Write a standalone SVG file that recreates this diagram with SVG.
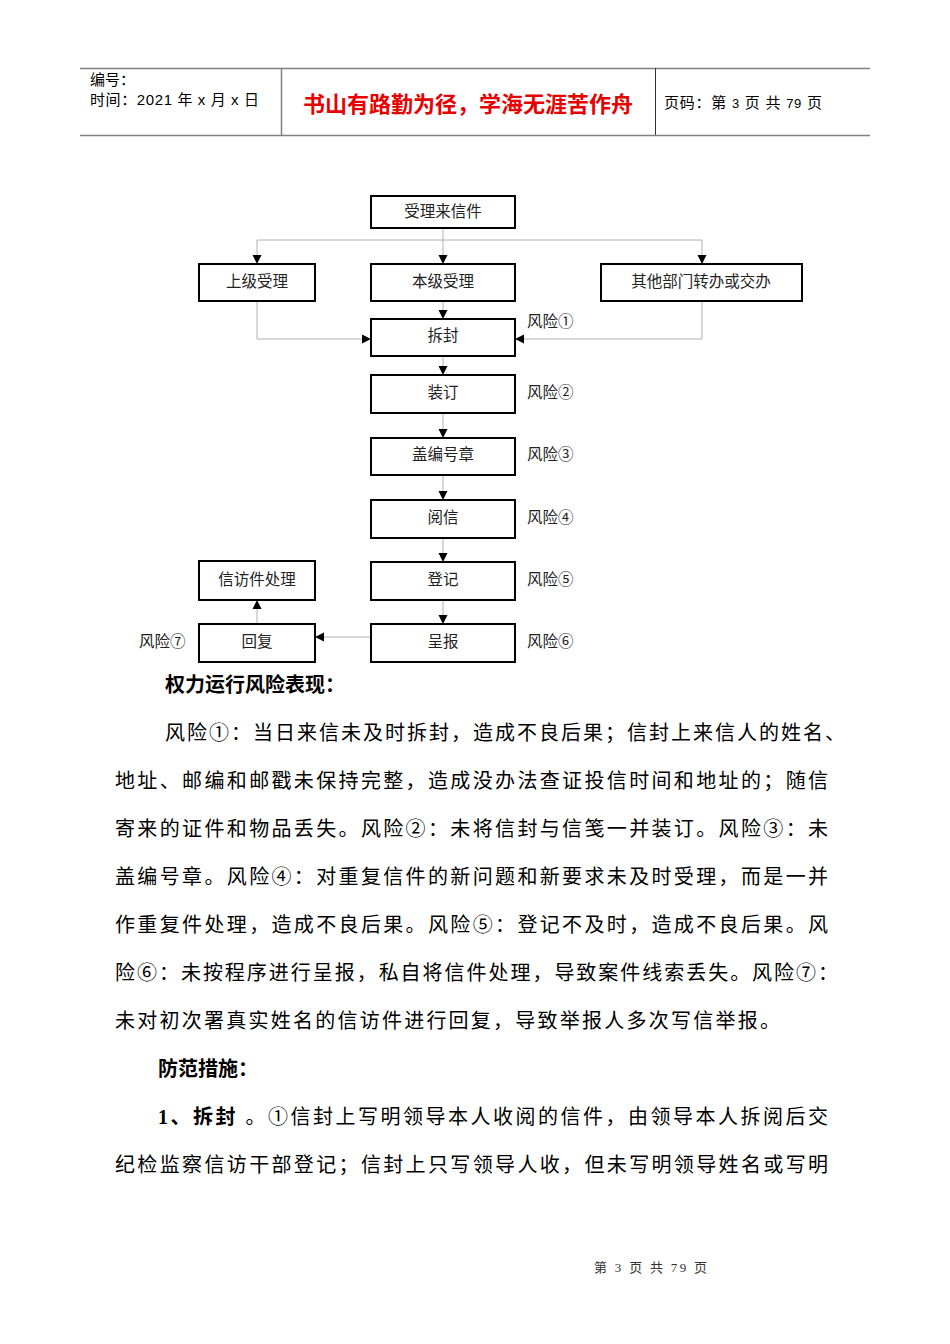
<svg xmlns="http://www.w3.org/2000/svg" width="950" height="1344" viewBox="0 0 950 1344">
<defs>
<marker id="arr" markerWidth="12" markerHeight="12" refX="10" refY="6" orient="auto" markerUnits="userSpaceOnUse">
<path d="M1,1.5 L10,6 L1,10.5 Z" fill="#000"/>
</marker>
<style>
.hdr{stroke:#808080;stroke-width:1.5;fill:none}
.box{fill:#fff;stroke:#000;stroke-width:2}
.lbl{font-family:"Liberation Serif","Noto Sans CJK SC",serif;font-size:15.5px;fill:#222;text-anchor:middle}
.risk{font-family:"Liberation Serif","Noto Sans CJK SC",serif;font-size:15.5px;fill:#222}
.con{stroke:#b0b0b0;stroke-width:1;fill:none;marker-end:url(#arr)}
.body{font-family:"Liberation Serif","Noto Sans CJK SC",serif;font-size:20px;fill:#000}
.bold{font-family:"Liberation Sans","Noto Sans CJK SC",sans-serif;font-size:20px;fill:#000;font-weight:bold}
.hs{font-family:"Liberation Sans","Noto Sans CJK SC",sans-serif;font-size:15px;fill:#000}
</style>
</defs>
<rect width="950" height="1344" fill="#fff"/>
<g id="header">
<line class="hdr" x1="80" y1="68.5" x2="870" y2="68.5"/>
<line class="hdr" x1="80" y1="135.5" x2="870" y2="135.5"/>
<line class="hdr" x1="281.5" y1="68" x2="281.5" y2="135"/>
<line x1="655.5" y1="68" x2="655.5" y2="135" stroke="#333" stroke-width="1"/>
<text class="hs" x="90" y="85">编号：</text>
<text class="hs" x="90" y="105" textLength="169" lengthAdjust="spacing">时间：2021 年 x 月 x 日</text>
<text x="468" y="112" text-anchor="middle" font-family="Liberation Sans,'Noto Sans CJK SC',sans-serif" font-size="22" font-weight="bold" fill="#e60000">书山有路勤为径，学海无涯苦作舟</text>
<text class="hs" x="664" y="108" textLength="158" lengthAdjust="spacing">页码：第 <tspan font-size="13">3</tspan> 页  共 <tspan font-size="13">79</tspan> 页</text>
</g>
<g id="connectors">
<polyline points="443,228 443,240" stroke="#b0b0b0" fill="none"/>
<line x1="257" y1="240" x2="702" y2="240" stroke="#b0b0b0"/>
<polyline class="con" points="257,240 257,264"/>
<polyline class="con" points="443,240 443,264"/>
<polyline class="con" points="702,240 702,264"/>
<polyline class="con" points="257,301 257,339 371,339"/>
<polyline class="con" points="443,301 443,319"/>
<polyline class="con" points="702,301 702,339 515,339"/>
<polyline class="con" points="443,356 443,375"/>
<polyline class="con" points="443,413 443,438"/>
<polyline class="con" points="443,475 443,500"/>
<polyline class="con" points="443,538 443,562"/>
<polyline class="con" points="443,600 443,624"/>
<polyline class="con" points="371,637 315,637"/>
<polyline class="con" points="257,624 257,600"/>
</g>
<g id="n-shouli"><rect class="box" x="371" y="196" width="144" height="32"/><text class="lbl" x="443" y="217">受理来信件</text></g>
<g id="n-shangji"><rect class="box" x="199" y="264" width="116" height="37"/><text class="lbl" x="257" y="287">上级受理</text></g>
<g id="n-benji"><rect class="box" x="371" y="264" width="144" height="37"/><text class="lbl" x="443" y="287">本级受理</text></g>
<g id="n-qita"><rect class="box" x="601" y="264" width="201" height="37"/><text class="lbl" x="701" y="287">其他部门转办或交办</text></g>
<g id="n-chaifeng"><rect class="box" x="371" y="319" width="144" height="37"/><text class="lbl" x="443" y="341">拆封</text><text class="risk" x="527" y="327">风险①</text></g>
<g id="n-zhuangding"><rect class="box" x="371" y="375" width="144" height="38"/><text class="lbl" x="443" y="398">装订</text><text class="risk" x="527" y="398">风险②</text></g>
<g id="n-gaizhang"><rect class="box" x="371" y="438" width="144" height="37"/><text class="lbl" x="443" y="460">盖编号章</text><text class="risk" x="527" y="460">风险③</text></g>
<g id="n-yuexin"><rect class="box" x="371" y="500" width="144" height="38"/><text class="lbl" x="443" y="523">阅信</text><text class="risk" x="527" y="523">风险④</text></g>
<g id="n-dengji"><rect class="box" x="371" y="562" width="144" height="38"/><text class="lbl" x="443" y="585">登记</text><text class="risk" x="527" y="585">风险⑤</text></g>
<g id="n-chengbao"><rect class="box" x="371" y="624" width="144" height="38"/><text class="lbl" x="443" y="647">呈报</text><text class="risk" x="527" y="647">风险⑥</text></g>
<g id="n-xinfang"><rect class="box" x="199" y="561" width="116" height="39"/><text class="lbl" x="257" y="585">信访件处理</text></g>
<g id="n-huifu"><rect class="box" x="199" y="624" width="116" height="38"/><text class="lbl" x="257" y="647">回复</text><text class="risk" x="139" y="647">风险⑦</text></g>
<g id="body">
<text class="bold" x="165" y="692">权力运行风险表现：</text>
<text class="body" x="165" y="740" textLength="680" lengthAdjust="spacing">风险①：当日来信未及时拆封，造成不良后果；信封上来信人的姓名、</text>
<text class="body" x="115" y="788" textLength="713" lengthAdjust="spacing">地址、邮编和邮戳未保持完整，造成没办法查证投信时间和地址的；随信</text>
<text class="body" x="115" y="836" textLength="713" lengthAdjust="spacing">寄来的证件和物品丢失。风险②：未将信封与信笺一并装订。风险③：未</text>
<text class="body" x="115" y="884" textLength="713" lengthAdjust="spacing">盖编号章。风险④：对重复信件的新问题和新要求未及时受理，而是一并</text>
<text class="body" x="115" y="932" textLength="713" lengthAdjust="spacing">作重复件处理，造成不良后果。风险⑤：登记不及时，造成不良后果。风</text>
<text class="body" x="115" y="980" textLength="723" lengthAdjust="spacing">险⑥：未按程序进行呈报，私自将信件处理，导致案件线索丢失。风险⑦：</text>
<text class="body" x="115" y="1028" textLength="665" lengthAdjust="spacing">未对初次署真实姓名的信访件进行回复，导致举报人多次写信举报。</text>
<text class="bold" x="158" y="1076">防范措施：</text>
<text class="body" x="158" y="1124" textLength="670" lengthAdjust="spacing"><tspan font-weight="bold">1、拆封 </tspan>。①信封上写明领导本人收阅的信件，由领导本人拆阅后交</text>
<text class="body" x="115" y="1172" textLength="713" lengthAdjust="spacing">纪检监察信访干部登记；信封上只写领导人收，但未写明领导姓名或写明</text>
</g>
<g id="footer">
<text x="594" y="1272" textLength="113" lengthAdjust="spacing" font-family="Liberation Serif,'Noto Sans CJK SC',serif" font-size="13" fill="#333">第 3 页 共 79 页</text>
</g>
</svg>
